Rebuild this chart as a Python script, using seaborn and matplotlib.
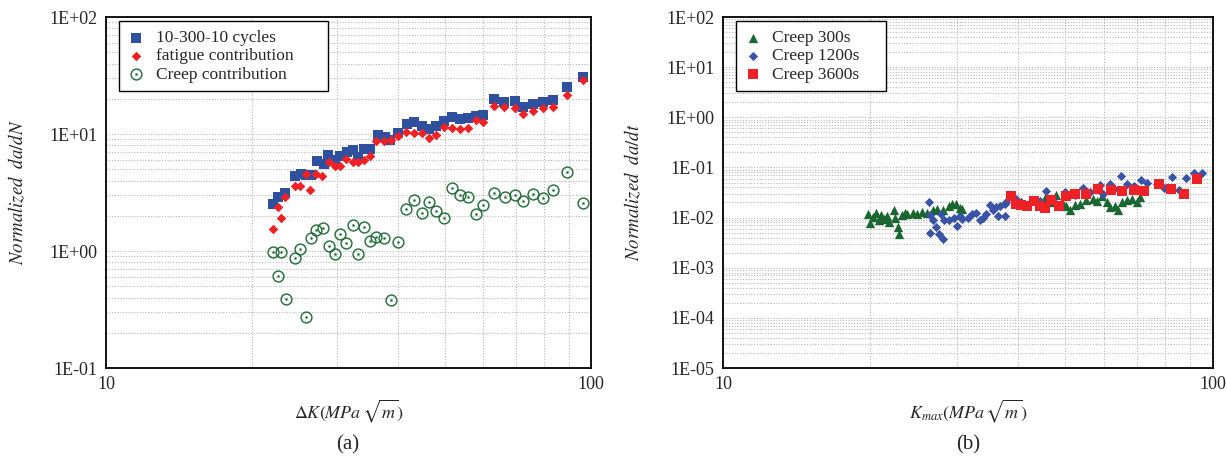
import matplotlib
matplotlib.use("Agg")
import matplotlib.pyplot as plt
import matplotlib.ticker as mticker
import pandas as pd
import seaborn as sns

# ---------------------------------------------------------------------------
# (a) 10-300-10 cycles: total, fatigue and creep contributions vs delta K
# ---------------------------------------------------------------------------
total_dk = [22.1, 22.6, 23.4, 24.5, 25.2, 25.9, 26.5, 27.2, 28.1, 28.7, 29.6, 30.4,
            31.4, 32.3, 33.1, 34.1, 35.0, 36.3, 37.6, 38.5, 39.9, 41.7, 43.2, 44.8,
            46.4, 47.9, 49.8, 51.8, 53.7, 55.7, 57.8, 60.0, 63.2, 66.3, 69.7, 72.5,
            76.0, 79.7, 83.6, 89.1, 96.1]
total_rate = [2.53, 2.92, 3.12, 4.39, 4.57, 4.45, 4.45, 5.83, 5.57, 6.65, 6.03, 6.52,
              6.96, 7.34, 6.35, 7.43, 7.43, 9.80, 9.36, 8.93, 10.3, 12.2, 12.7, 11.6,
              11.1, 11.8, 13.0, 14.0, 13.4, 13.7, 14.2, 14.6, 20.1, 18.8, 19.1, 17.0,
              18.1, 18.9, 19.7, 25.2, 30.7]

fatigue_dk = [22.1, 22.6, 23.0, 23.4, 24.5, 25.1, 25.8, 26.3, 27.1, 27.9, 28.8, 29.6,
              30.4, 31.3, 32.3, 33.1, 34.0, 35.0, 36.1, 37.4, 38.7, 39.9, 41.6, 43.2,
              44.8, 46.4, 47.9, 49.8, 51.8, 53.7, 55.7, 57.8, 60.0, 63.2, 66.3, 69.7,
              72.5, 76.0, 79.7, 83.6, 89.1, 96.1]
fatigue_rate = [1.53, 2.40, 1.91, 2.92, 3.61, 3.61, 4.57, 3.33, 4.57, 4.39, 5.79, 5.35,
                5.28, 6.10, 5.72, 5.72, 6.03, 6.43, 8.65, 8.65, 8.93, 9.54, 10.5, 10.2,
                10.2, 9.18, 9.86, 11.5, 11.2, 11.1, 11.2, 13.3, 12.7, 17.5, 16.9, 16.7,
                14.8, 15.6, 16.7, 16.9, 21.7, 29.2]

creep_dk = [22.1, 23.0, 22.6, 23.5, 24.5, 25.1, 25.8, 26.4, 27.1, 28.0, 28.8, 29.6,
            30.4, 31.3, 32.3, 33.0, 34.0, 35.0, 36.1, 37.4, 39.9, 38.6, 41.6, 43.1,
            44.8, 46.3, 47.9, 49.7, 51.6, 53.7, 55.7, 57.8, 60.0, 63.2, 66.4, 69.7,
            72.5, 76.0, 79.7, 83.6, 89.1, 96.1]
creep_rate = [0.99, 0.99, 0.616, 0.391, 0.867, 1.04, 0.275, 1.29, 1.50, 1.57, 1.11, 0.95,
              1.39, 1.18, 1.68, 0.95, 1.59, 1.22, 1.31, 1.29, 1.20, 0.381, 2.28, 2.74,
              2.10, 2.60, 2.18, 1.91, 3.45, 3.04, 2.90, 2.06, 2.46, 3.14, 2.92, 3.02,
              2.69, 3.06, 2.85, 3.29, 4.69, 2.56]

# ---------------------------------------------------------------------------
# (b) creep crack growth rate vs Kmax for three hold times
# ---------------------------------------------------------------------------
c300_k = [19.8, 20.0, 20.2, 20.5, 20.8, 21.0, 21.3, 21.6, 21.8, 22.3, 22.5, 22.8,
          22.9, 23.2, 23.5, 23.8, 24.4, 24.9, 25.5, 26.1, 26.8, 27.4, 28.1, 28.9,
          29.4, 29.9, 30.4, 30.8, 45.5, 46.5, 47.9, 49.1, 50.2, 51.1, 52.3, 53.5,
          55.2, 57.0, 57.9, 59.3, 60.7, 61.7, 63.1, 64.1, 65.2, 66.7, 68.3, 69.9, 71.1]
c300_rate = [0.0119, 0.00778, 0.0105, 0.0123, 0.00879, 0.0112, 0.00949, 0.01056,
             0.00815, 0.0139, 0.00993, 0.00648, 0.00478, 0.01106, 0.0125, 0.0119,
             0.0123, 0.0116, 0.0129, 0.0123, 0.0139, 0.0148, 0.0139, 0.0167, 0.0189,
             0.0183, 0.0157, 0.0150, 0.0245, 0.0200, 0.0276, 0.0204, 0.0167, 0.0139,
             0.0175, 0.0183, 0.0227, 0.0237, 0.0213, 0.0264, 0.0204, 0.0162, 0.0167,
             0.0139, 0.0204, 0.0220, 0.0237, 0.0204, 0.0256]

c1200_k = [26.3, 26.4, 26.8, 27.2, 26.4, 27.6, 28.1, 27.8, 28.3, 29.0, 29.6, 30.1,
           30.4, 30.8, 31.6, 32.3, 32.8, 33.4, 33.9, 34.4, 35.0, 35.5, 36.1, 36.7,
           37.6, 37.8, 36.4, 37.6, 39.7, 40.6, 44.3, 45.6, 47.2, 49.9, 52.3, 54.4,
           56.1, 58.8, 59.8, 61.7, 62.7, 64.9, 66.9, 68.9, 71.3, 73.5, 76.9, 79.3,
           82.5, 85.2, 88.3, 91.7, 95.1]
c1200_rate = [0.0204, 0.0111, 0.00907, 0.00649, 0.00493, 0.00478, 0.00380, 0.0119,
              0.00880, 0.00907, 0.00993, 0.00669, 0.01056, 0.00949, 0.00993, 0.0116,
              0.0123, 0.00907, 0.00993, 0.0119, 0.0175, 0.0143, 0.0162, 0.0167,
              0.0189, 0.0204, 0.0106, 0.0106, 0.0237, 0.0204, 0.0213, 0.0332, 0.0237,
              0.0322, 0.0276, 0.0393, 0.0322, 0.0437, 0.0298, 0.0457, 0.0375, 0.0690,
              0.0457, 0.0417, 0.0566, 0.0493, 0.0471, 0.0393, 0.0639, 0.0358, 0.0611,
              0.0768, 0.0792]

c3600_k = [38.8, 39.7, 40.6, 41.7, 43.1, 44.3, 45.4, 46.8, 48.5, 50.2, 52.4, 55.0,
           58.2, 61.9, 65.2, 69.1, 72.4, 77.5, 82.3, 87.3, 92.9]
c3600_rate = [0.0264, 0.0183, 0.0175, 0.0167, 0.0213, 0.0167, 0.0157, 0.0227, 0.0172,
              0.0272, 0.0298, 0.0298, 0.0375, 0.0358, 0.0342, 0.0358, 0.0332, 0.0471,
              0.0375, 0.0298, 0.0593]

BLUE = "#2f4f9f"
RED = "#ee2226"
GREEN = "#1c6a33"
GREEN_B = "#1a6630"
BLUE_B = "#3953a6"

sns.set_style("white")
plt.rcParams["font.family"] = ["Liberation Serif", "DejaVu Serif"]
plt.rcParams["mathtext.fontset"] = "stix"

fig = plt.figure(figsize=(12.27, 4.65), dpi=100)
ax_a = fig.add_axes([0.0864, 0.2086, 0.3953, 0.7548])
ax_b = fig.add_axes([0.5892, 0.2086, 0.3993, 0.7548])

df_a_total = pd.DataFrame({"x": total_dk, "y": total_rate})
df_a_fat = pd.DataFrame({"x": fatigue_dk, "y": fatigue_rate})
df_a_creep = pd.DataFrame({"x": creep_dk, "y": creep_rate})

# legend boxes in the original are wider than their text: pad the labels
PAD_A = "\u2002" * 3
PAD_B = "\u2002" * 2

sns.scatterplot(data=df_a_total, x="x", y="y", ax=ax_a, marker="s", s=60,
                color=BLUE, linewidth=0, label="10-300-10 cycles" + PAD_A, zorder=3)
sns.scatterplot(data=df_a_fat, x="x", y="y", ax=ax_a, marker="D", s=24,
                color=RED, linewidth=0, label="fatigue contribution" + PAD_A, zorder=4)
sns.scatterplot(data=df_a_creep, x="x", y="y", ax=ax_a, marker=r"$\odot$", s=75,
                color=GREEN, edgecolor=GREEN, linewidth=0.15,
                label="Creep contribution" + PAD_A, zorder=3)

df_b_300 = pd.DataFrame({"x": c300_k, "y": c300_rate})
df_b_1200 = pd.DataFrame({"x": c1200_k, "y": c1200_rate})
df_b_3600 = pd.DataFrame({"x": c3600_k, "y": c3600_rate})

sns.scatterplot(data=df_b_300, x="x", y="y", ax=ax_b, marker="^", s=45,
                color=GREEN_B, linewidth=0, label="Creep 300s" + PAD_B, zorder=3)
sns.scatterplot(data=df_b_1200, x="x", y="y", ax=ax_b, marker="D", s=22,
                color=BLUE_B, linewidth=0, label="Creep 1200s" + PAD_B, zorder=3)
sns.scatterplot(data=df_b_3600, x="x", y="y", ax=ax_b, marker="s", s=58,
                color=RED, linewidth=0, label="Creep 3600s" + PAD_B, zorder=4)


def sci_fmt(v, _pos):
    return f"{v:.0E}"


def style_axes(ax, ylim, xlabel, ylabel, leg_anchor):
    ax.set_xscale("log")
    ax.set_yscale("log")
    ax.set_xlim(10, 100)
    ax.set_ylim(*ylim)
    ax.xaxis.set_major_locator(mticker.FixedLocator([10, 100]))
    ax.xaxis.set_major_formatter(mticker.FixedFormatter(["10", "100"]))
    ax.xaxis.set_minor_locator(mticker.LogLocator(base=10, subs=range(2, 10)))
    ax.xaxis.set_minor_formatter(mticker.NullFormatter())
    ax.yaxis.set_major_locator(mticker.LogLocator(base=10, numticks=20))
    ax.yaxis.set_major_formatter(mticker.FuncFormatter(sci_fmt))
    ax.yaxis.set_minor_locator(mticker.LogLocator(base=10, subs=range(2, 10), numticks=20))
    ax.yaxis.set_minor_formatter(mticker.NullFormatter())
    ax.grid(True, which="both", color="#b8b8b8", linestyle=(0, (1, 1.5)), linewidth=0.8)
    ax.set_axisbelow(True)
    ax.tick_params(which="both", direction="in", labelsize=13, pad=6)
    ax.tick_params(which="major", length=4)
    ax.tick_params(which="minor", length=2.5)
    for sp in ax.spines.values():
        sp.set_color("black")
        sp.set_linewidth(1.3)
    ax.set_xlabel(xlabel, fontsize=13)
    ax.set_ylabel(ylabel, fontsize=13.5)
    ax.xaxis.set_label_coords(0.5, -0.085)
    ax.yaxis.set_label_coords(-0.163, 0.5)
    leg = ax.legend(loc="upper left", bbox_to_anchor=leg_anchor,
                    fontsize=12.5, frameon=True, fancybox=False,
                    edgecolor="black", framealpha=1, labelspacing=0.12,
                    handlelength=1.0, handletextpad=0.6, borderpad=0.5,
                    borderaxespad=0.0)
    leg.get_frame().set_linewidth(1.0)


style_axes(ax_a, (0.1, 100), r"$\Delta K(MPa\,\sqrt{m})$", r"$Normalized\ \ da/dN$",
           (0.027, 0.988))
style_axes(ax_b, (1e-5, 100), r"$K_{max}(MPa\,\sqrt{m})$", r"$Normalized\ \ da/dt$",
           (0.0265, 0.988))

fig.text(0.2836, 0.043, "(a)", ha="center", va="center", fontsize=15)
fig.text(0.789, 0.043, "(b)", ha="center", va="center", fontsize=15)

fig.savefig("out.png", dpi=100)
